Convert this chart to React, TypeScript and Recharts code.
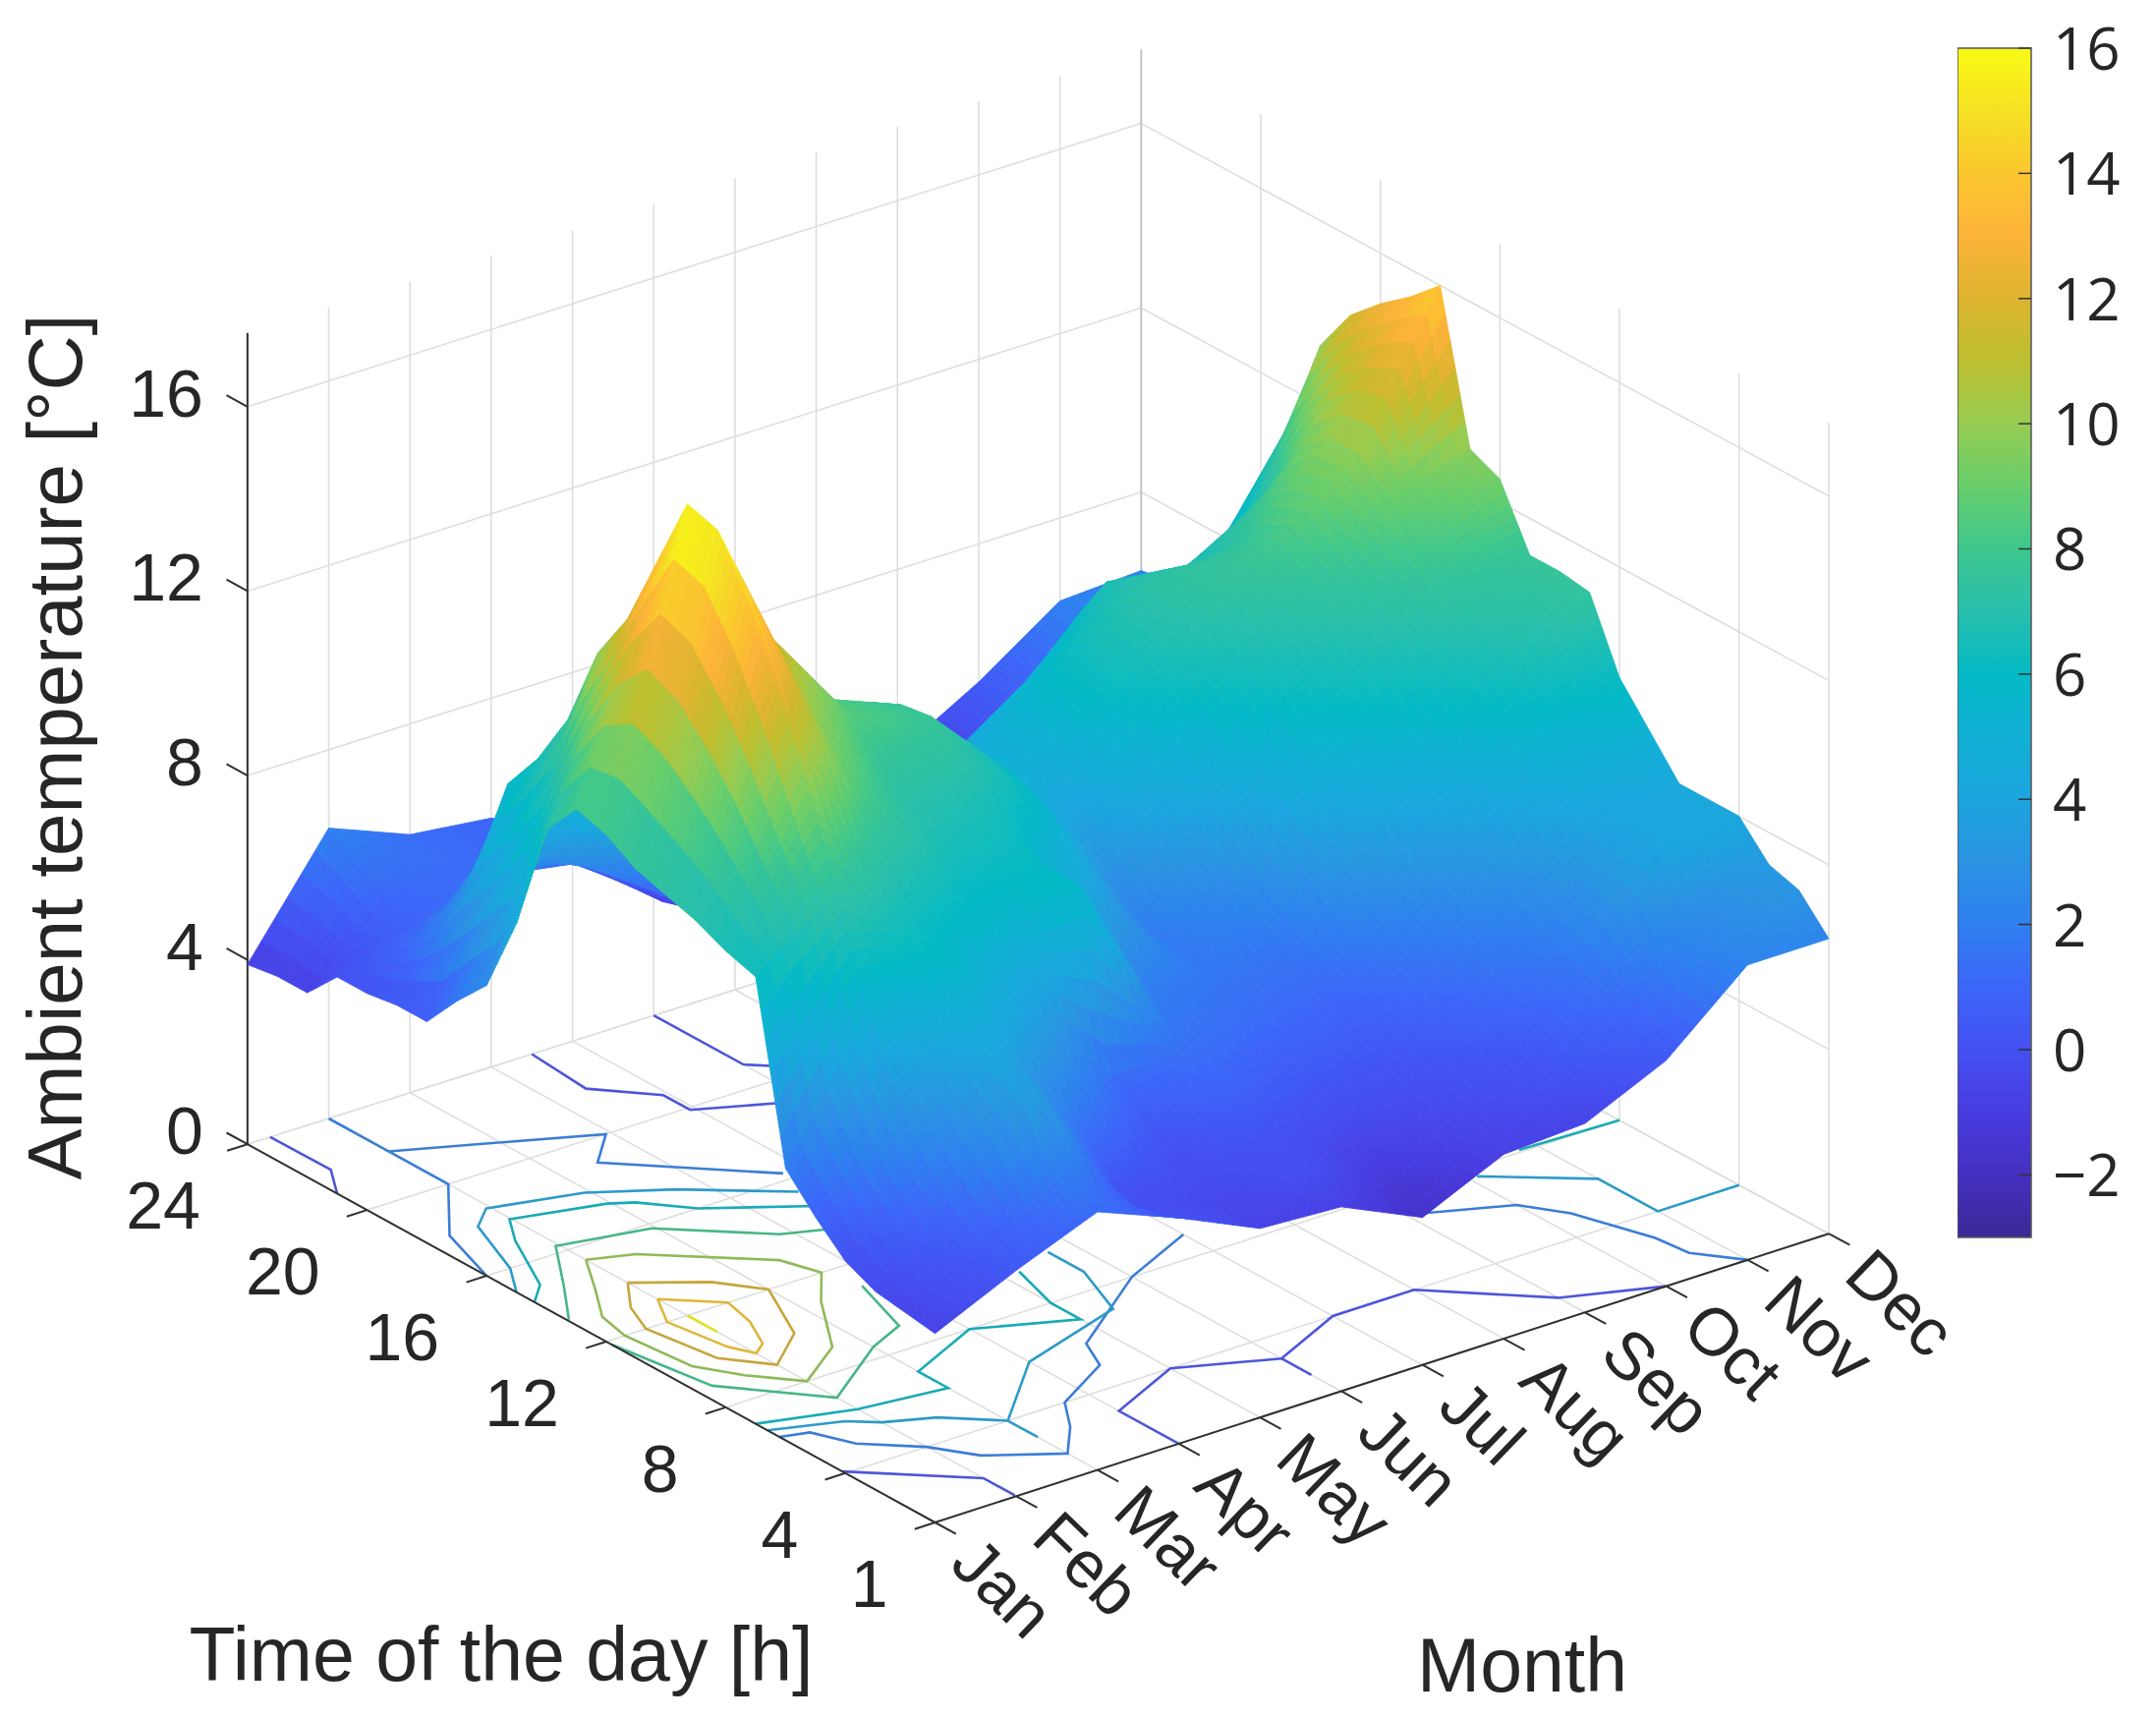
import React from "react";
import { ScatterChart, Scatter, XAxis, YAxis, BarChart, Bar } from "recharts";

const WIDTH = 2194;
const HEIGHT = 1750;

const hours = [1, 2, 3, 4, 5, 6, 7, 8, 9, 10, 11, 12, 13, 14, 15, 16, 17, 18, 19, 20, 21, 22, 23, 24];
const monthNames = ["Jan", "Feb", "Mar", "Apr", "May", "Jun", "Jul", "Aug", "Sep", "Oct", "Nov", "Dec"];
const hourTicks = [1, 4, 8, 12, 16, 20, 24];
const tempTicks = [0, 4, 8, 12, 16];
const colorbarTicks = [-2, 0, 2, 4, 6, 8, 10, 12, 14, 16];

// one value per hour
const jan = [4.1, 4.2, 4.3, 4.6, 5.2, 5.9, 9.7, 9.9, 10.2, 10.4, 10.6, 11, 11.2, 10.4, 8, 6.3, 5.6, 4.8, 4.8, 4.7, 4.7, 4, 4, 3.9];
const feb = [4.9, 5, 5.4, 6.2, 7.2, 8.8, 11, 12.8, 14.6, 16.2, 17.4, 17.6, 16, 14.4, 13.3, 11.5, 10.3, 9.4, 7.3, 6.1, 5.3, 5.4, 5.9, 6.3];
const mar = [5.6, 6.2, 7.6, 7.8, 8.4, 9.4, 9.6, 10.6, 11.8, 12.6, 13.4, 14.2, 13.7, 13, 12, 10.7, 9.7, 7.8, 6.9, 6.3, 5.8, 5.6, 5.6, 5.6];
const apr = [4.9, 4.6, 4.6, 5.5, 6.8, 7.8, 8.9, 9.4, 10.1, 10.6, 11.2, 11.9, 11.9, 11.3, 9.8, 8.6, 7, 6.6, 5.7, 6.1, 5.5, 5.3, 5.3, 5.4];
const may = [4.1, 4.2, 4.4, 4.6, 5, 5.6, 9.4, 9.4, 9.6, 10, 10.8, 11.3, 11.2, 10.9, 8, 5.8, 5, 4.7, 4.4, 4.3, 4.1, 4.1, 4.2, 4.4];
const jun = [4, 4.6, 4.6, 5, 5.4, 5.7, 6, 6.2, 7.4, 8.4, 9.2, 9.5, 9.5, 9.3, 7.8, 6.5, 5.6, 5.1, 4.7, 4.6, 4.6, 4.6, 4.6, 4.6];
const jul = [3.2, 3.5, 4.1, 4.6, 5, 5.4, 5.7, 5.9, 6, 6, 6.5, 7.2, 7.9, 8.4, 8.6, 8.3, 7.4, 6.2, 5.4, 5, 4.8, 4.8, 4.8, 4.8];
const aug = [4, 4.2, 4.4, 4.6, 4.9, 5.2, 5.5, 5.8, 6.2, 6.7, 7.5, 8.4, 9.2, 9.7, 9.8, 9.5, 8.6, 7.3, 5.8, 4.9, 4.5, 4.4, 4.3, 4.3];
const sep = [4.1, 4.6, 4.8, 5.2, 5.5, 5.8, 6.2, 6.9, 7.7, 8.5, 9.1, 9.8, 10.3, 10.8, 11, 10.6, 10.2, 9.1, 7, 5.6, 4.6, 4.2, 4, 4];
const oct = [4.9, 5.2, 5.7, 5.9, 6.2, 6.6, 7.2, 7.9, 8.6, 9.5, 10.2, 10.7, 11.2, 11.6, 11.2, 10.5, 10, 9.2, 7.8, 6.8, 5.9, 5.4, 5.1, 5];
const nov = [6.4, 6.5, 6.6, 7.8, 7.7, 7.8, 8.4, 9.2, 10, 10.5, 11.1, 11.7, 12.3, 12.9, 12.9, 12.3, 11, 9.3, 8.2, 7.3, 6.8, 6.4, 6.2, 6.2];
const dec = [6.4, 7.1, 7.3, 8, 8, 8, 8.8, 9.6, 11.1, 11.2, 11.2, 12.5, 12.8, 16, 15.4, 14.9, 14.3, 13.3, 11.3, 9.8, 7.8, 7, 6.4, 6.3];
const temps = [jan, feb, mar, apr, may, jun, jul, aug, sep, oct, nov, dec];

// colorbar colours, one per degree from -3 to 16
const barColors = [
  "#3a2a96", "#4430c0", "#483ce0", "#4450f2", "#3c66f8", "#2f80f0", "#2a93e2", "#1ca5de", "#12b0d6", "#04bac6",
  "#28bfac", "#3ec78e", "#68ce6c", "#96cc52", "#bcbf30", "#ddb430", "#fdb33a", "#fbc72e", "#f5e124", "#f9fb14",
];

// surface height against the colorbar value it is painted with
const shadeHeights = [2.2, 6.2, 9.4, 11.2, 12.6, 14.2, 15.8, 17.4];
const shadeLevels = [-3, 2, 6, 7.6, 9.4, 11.8, 14, 16];

// floor contours as [month, hour] vertices, by colorbar level
const contourLines: [number, number[][]][] = [
  [0, [[1.28, 24], [1.29, 22], [1, 21]]],
  [0, [[4.5, 24], [4.43, 22], [4.94, 20.8], [4.94, 19.9], [5.7, 19.1]]],
  [0, [[6, 24], [6, 21], [6.2, 20.6]]],
  [0, [[1, 4.1], [2, 2.1], [2, 1.05]]],
  [0, [[4, 1], [4, 3], [5, 4], [6, 3], [7, 4], [8, 4], [9, 1.9], [10, 1]]],
  [0, [[6, 3], [6, 2]]],
  [2, [[2, 24], [2, 22], [2, 20], [1.28, 18], [1, 16]]],
  [2, [[2, 22], [3.94, 20], [3.47, 19], [4.76, 16.3]]],
  [2, [[1, 6.2], [1.3, 6], [1.5, 5], [2, 4], [2.3, 3], [3, 2], [3.4, 3], [3.7, 4], [4.5, 5], [4.7, 6], [6, 8], [7, 9]]],
  [2, [[9, 7], [10, 6], [10.3, 5], [10.6, 3], [10.65, 2], [11, 1]]],
  [4, [[1, 15], [1.29, 16], [1.63, 18], [1.95, 18.6], [2.94, 18], [3.7, 17], [4.62, 15.4]]],
  [4, [[1, 6.6], [1.73, 6], [2, 5.5], [2.5, 5], [3, 4], [4, 6], [5.4, 7], [5.7, 8.8], [5.7, 10]]],
  [4, [[3, 4], [3, 3]]],
  [4, [[10.1, 7.6], [11, 6], [11, 4], [12, 4]]],
  [6, [[1, 14.4], [1.29, 15], [1.72, 17], [1.98, 17.9], [2.96, 17.3], [3.2, 17], [3.6, 16], [4.58, 14.6]]],
  [6, [[1, 7], [2, 6.3], [3, 6], [3, 7], [4, 8], [5, 7], [5, 8], [5.2, 9.6]]],
  [6, [[10.8, 8.1], [12, 8]]],
  [8, [[4.31, 13.6], [3.87, 14], [2.96, 15.8], [1.96, 16.3], [1.47, 14.7], [1.02, 13.3]]],
  [8, [[1, 11.8], [1.2, 9], [2, 7], [3, 8.5], [3.5, 9], [3.78, 11]]],
  [10, [[2, 15.4], [2.47, 15], [3.5, 13], [3.65, 12], [3.24, 10.9], [2.68, 9], [2, 8], [1.6, 9], [1.32, 10], [1.23, 12], [1.32, 13], [1.67, 14.2], [2, 15.4]]],
  [12, [[2, 14], [2.66, 13], [3, 12], [2.58, 10], [2, 9], [1.63, 10], [1.49, 12], [1.67, 13], [2, 14]]],
  [14, [[2, 13], [2.5, 12], [2.4, 11], [2.19, 10], [2, 9.7], [1.87, 10.3], [1.75, 12], [2, 13]]],
  [16, [[2, 12], [2, 11]]],
];

// fixed 3D view, nearly orthographic
const project = (month: number, hour: number, temp: number) => ({
  x: 951.5 + (month - 1) * 82.68 - (hour - 1) * 30.42,
  y: 1549 - (month - 1) * 26.71 - (hour - 1) * 16.73 - temp * 46.9 + (5.6 * (month - 1) * (hour - 1)) / 253,
});

const hexToRgb = (hex: string) => [1, 3, 5].map((i) => parseInt(hex.slice(i, i + 2), 16));

const rgbOf = (level: number) => {
  const t = Math.min(18.999, Math.max(0, level + 3));
  const i = Math.floor(t);
  const a = hexToRgb(barColors[i]);
  const b = hexToRgb(barColors[i + 1]);
  return a.map((v, k) => v + (b[k] - v) * (t - i));
};

const toCss = (c: number[]) => `rgb(${c.map(Math.round).join(",")})`;

// contours read slightly greyer than the surface in the reference
const contourColor = (level: number) => toCss(rgbOf(level).map((v) => v * 0.8 + 112 * 0.2));

const surfaceColor = (temp: number) => {
  let k = 0;
  while (k < shadeHeights.length - 2 && temp > shadeHeights[k + 1]) k++;
  const f = (temp - shadeHeights[k]) / (shadeHeights[k + 1] - shadeHeights[k]);
  return toCss(rgbOf(shadeLevels[k] + f * (shadeLevels[k + 1] - shadeLevels[k])));
};

const STEPS = 6;
const buildPatches = () => {
  const out: { x: number; y: number; corners: { x: number; y: number }[]; fill: string }[] = [];
  const at = (i: number, j: number, u: number, v: number) => {
    const t0 = temps[i][j] * (1 - u) + temps[i + 1][j] * u;
    const t1 = temps[i][j + 1] * (1 - u) + temps[i + 1][j + 1] * u;
    return t0 * (1 - v) + t1 * v;
  };
  // back to front, so nearer facets paint over farther ones
  for (let i = temps.length - 2; i >= 0; i--) {
    for (let j = hours.length - 2; j >= 0; j--) {
      for (let s = STEPS - 1; s >= 0; s--) {
        for (let r = STEPS - 1; r >= 0; r--) {
          const u0 = s / STEPS, u1 = (s + 1) / STEPS, v0 = r / STEPS, v1 = (r + 1) / STEPS;
          const corners = [[u0, v0], [u1, v0], [u1, v1], [u0, v1]].map(([u, v]) =>
            project(i + 1 + u, hours[j] + v, at(i, j, u, v))
          );
          out.push({
            x: corners[0].x,
            y: corners[0].y,
            corners,
            fill: surfaceColor(at(i, j, (u0 + u1) / 2, (v0 + v1) / 2)),
          });
        }
      }
    }
  }
  return out;
};

const patches = buildPatches();

const PatchShape = (props: any) => {
  const { cx, cy, payload } = props;
  const pts = payload.corners
    .map((c: { x: number; y: number }) => `${cx + c.x - payload.x},${cy + c.y - payload.y}`)
    .join(" ");
  return <polygon points={pts} fill={payload.fill} stroke={payload.fill} strokeWidth={0.9} />;
};

const NoDot = () => null;

const LabelShape = (props: any) => {
  const { cx, cy, payload } = props;
  return (
    <text
      x={cx}
      y={cy}
      fontFamily="'Liberation Sans', Arial, sans-serif"
      fontSize={payload.size}
      fill="#262626"
      textAnchor={payload.anchor}
      dominantBaseline="central"
      transform={payload.rotate ? `rotate(${payload.rotate} ${cx} ${cy})` : undefined}
    >
      {payload.text}
    </text>
  );
};

const GRID = "#dedede";
const AXIS = "#303030";

const gridLines: { x: number; y: number }[][] = [
  ...monthNames.map((_, i) => [project(i + 1, 1, 0), project(i + 1, 24, 0)]),
  ...hourTicks.map((h) => [project(1, h, 0), project(12, h, 0)]),
  ...monthNames.map((_, i) => [project(i + 1, 24, 0), project(i + 1, 24, 17.6)]),
  ...hourTicks.map((h) => [project(12, h, 0), project(12, h, 17.6)]),
  ...tempTicks.map((t) => [project(1, 24, t), project(12, 24, t)]),
  ...tempTicks.map((t) => [project(12, 24, t), project(12, 1, t)]),
];

const axisLines: { x: number; y: number }[][] = [
  [project(1, 24, 0), project(1, 24, 17.6)],
  [project(1, 24, 0), project(1, 1, 0)],
  [project(1, 1, 0), project(12, 1, 0)],
  ...tempTicks.map((t) => [project(1, 24, t), project(1, 24.7, t)]),
  ...hourTicks.map((h) => [project(1, h, 0), project(0.75, h, 0)]),
  ...monthNames.map((_, i) => [project(i + 1, 1, 0), project(i + 1, 0.3, 0)]),
];

const labels = [
  ...tempTicks.map((t) => {
    const p = project(1, 24, t);
    return { x: p.x - 45, y: p.y - 14, text: String(t), size: 68, anchor: "end", rotate: 0 };
  }),
  ...hourTicks.map((h) => {
    const p = project(1, h, 0);
    return { x: p.x - 48, y: p.y + 62, text: String(h), size: 68, anchor: "end", rotate: 0 };
  }),
  ...monthNames.map((name, i) => {
    const p = project(i + 1, 1, 0);
    return { x: p.x + 30, y: p.y + 28, text: name, size: 68, anchor: "start", rotate: 44 };
  }),
  { x: 510, y: 1683, text: "Time of the day [h]", size: 77, anchor: "middle", rotate: 0 },
  { x: 1549, y: 1694, text: "Month", size: 77, anchor: "middle", rotate: 0 },
  { x: 56, y: 760, text: "Ambient temperature [°C]", size: 78, anchor: "middle", rotate: -90 },
];

const Polyline = (pts: { x: number; y: number }[], stroke: string, width: number, key: string) => (
  <Scatter
    key={key}
    data={pts}
    shape={NoDot}
    line={{ stroke, strokeWidth: width }}
    lineType="joint"
    isAnimationActive={false}
  />
);

const ColorbarTick = (props: any) => {
  const { x, y, payload } = props;
  const v = payload.value;
  return (
    <g>
      <line x1={x - 13} x2={x} y1={y} y2={y} stroke="#333" strokeWidth={1.5} />
      <text
        x={x + 22}
        y={y - 1}
        fontFamily="'Open Sans', sans-serif"
        fontSize={60}
        fill="#262626"
        dominantBaseline="central"
      >
        {v < 0 ? `\u2212${-v}` : v}
      </text>
    </g>
  );
};

const colorbarData = [{ name: "temperature", range: [-3, 16] }];

export default function App() {
  return (
    <div style={{ position: "absolute", left: 0, top: 0, width: WIDTH, height: HEIGHT, background: "#fff", overflow: "hidden" }}>
      <div style={{ position: "absolute", left: 0, top: 0 }}>
        <ScatterChart width={WIDTH} height={HEIGHT} margin={{ top: 0, right: 0, bottom: 0, left: 0 }}>
          <XAxis type="number" dataKey="x" domain={[0, WIDTH]} hide />
          <YAxis type="number" dataKey="y" domain={[0, HEIGHT]} reversed hide />
          {gridLines.map((pts, i) => Polyline(pts, GRID, 1.6, `grid${i}`))}
          {Polyline([project(12, 24, 0), project(12, 24, 17.6)], "#c4c4c4", 1.8, "corner")}
          {contourLines.map(([level, path], i) =>
            Polyline(path.map(([m, h]) => project(m, h, 0)), contourColor(level), 2.6, `contour${i}`)
          )}
          {axisLines.map((pts, i) => Polyline(pts, AXIS, 2, `axis${i}`))}
          <Scatter data={patches} shape={PatchShape} isAnimationActive={false} />
          <Scatter data={labels} shape={LabelShape} isAnimationActive={false} />
        </ScatterChart>
      </div>
      <div style={{ position: "absolute", left: 1992, top: 5 }}>
        <BarChart
          width={202}
          height={1294}
          data={colorbarData}
          margin={{ top: 44, right: 0, bottom: 40, left: 0 }}
          barCategoryGap={0}
        >
          <defs>
            <linearGradient id="colorbarFill" x1="0" y1="1" x2="0" y2="0">
              {barColors.map((c, i) => (
                <stop key={c} offset={`${(i / (barColors.length - 1)) * 100}%`} stopColor={c} />
              ))}
            </linearGradient>
          </defs>
          <XAxis dataKey="name" hide />
          <YAxis
            orientation="right"
            width={127}
            domain={[-3, 16]}
            ticks={colorbarTicks}
            axisLine={false}
            tickLine={false}
            tickSize={0}
            tickMargin={0}
            interval={0}
            tick={<ColorbarTick />}
          />
          <Bar dataKey="range" fill="url(#colorbarFill)" stroke="#555" strokeWidth={1.5} isAnimationActive={false} />
        </BarChart>
      </div>
    </div>
  );
}
